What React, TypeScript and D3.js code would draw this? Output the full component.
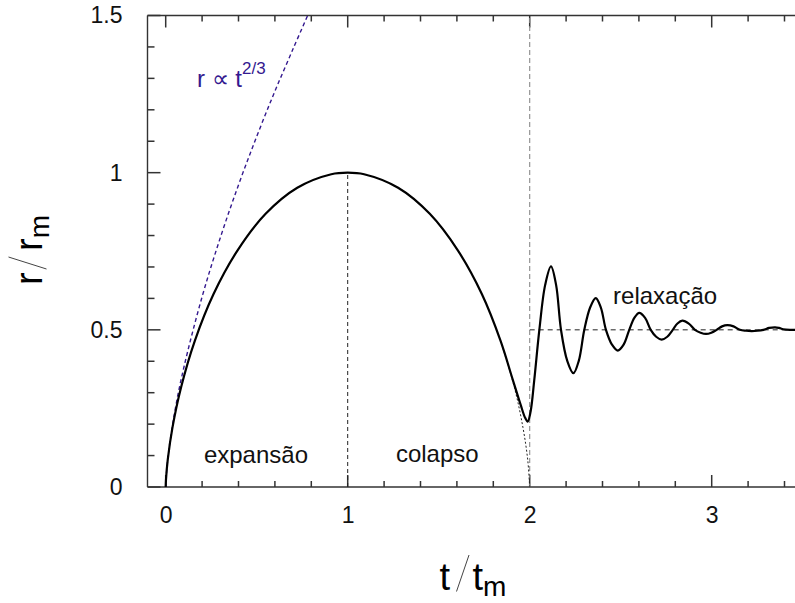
import React, { useRef, useEffect } from "react";
import * as d3 from "d3";

// solid curve: expansion, collapse and relaxation (t/tm, r/rm)
const curveT = [
  0, 0.0014, 0.0113, 0.0371, 0.0853, 0.16, 0.263, 0.394, 0.549, 0.723, 0.91, 1.0,
  1.09, 1.277, 1.451, 1.606, 1.737, 1.84, 1.905, 1.95, 1.975, 1.989, 2.005, 2.025,
  2.053, 2.085, 2.117, 2.145, 2.172, 2.206, 2.24, 2.27, 2.3, 2.332, 2.363, 2.391,
  2.419, 2.452, 2.484, 2.516, 2.547, 2.575, 2.602, 2.634, 2.665, 2.695, 2.725, 2.756,
  2.786, 2.812, 2.839, 2.874, 2.908, 2.939, 2.969, 2.998, 3.027, 3.057, 3.086, 3.12,
  3.155, 3.188, 3.22, 3.252, 3.284, 3.316, 3.348, 3.37, 3.393, 3.43, 3.5,
];
const curveR = [
  0, 0.022, 0.087, 0.189, 0.319, 0.465, 0.614, 0.752, 0.869, 0.952, 0.995, 1.0,
  0.995, 0.952, 0.869, 0.752, 0.614, 0.465, 0.345, 0.262, 0.22, 0.208, 0.24, 0.34,
  0.5, 0.643, 0.702, 0.643, 0.5, 0.402, 0.362, 0.402, 0.5, 0.571, 0.601, 0.571,
  0.5, 0.453, 0.434, 0.453, 0.5, 0.538, 0.554, 0.538, 0.5, 0.478, 0.469, 0.478,
  0.5, 0.52, 0.529, 0.52, 0.5, 0.491, 0.487, 0.491, 0.5, 0.511, 0.515, 0.511,
  0.5, 0.497, 0.496, 0.497, 0.5, 0.506, 0.508, 0.506, 0.502, 0.5, 0.5,
];

// dotted continuation of the free collapse down to r = 0
const tailT = [1.84, 1.915, 1.963, 1.989, 2.0];
const tailR = [0.465, 0.319, 0.189, 0.087, 0];

// r ~ t^(2/3) guide
const powT = [0, 0.01, 0.05, 0.1, 0.2, 0.3, 0.4, 0.5, 0.6, 0.7, 0.78];
const powR = [0, 0.082, 0.24, 0.381, 0.605, 0.793, 0.961, 1.115, 1.259, 1.394, 1.5];

const xMajor = [0, 1, 2, 3];
const xMinor = [0.2, 0.4, 0.6, 0.8, 1.2, 1.4, 1.6, 1.8, 2.2, 2.4, 2.6, 2.8, 3.2, 3.4];
const yMajor = [0, 0.5, 1, 1.5];
const yMinor = [0.1, 0.2, 0.3, 0.4, 0.6, 0.7, 0.8, 0.9, 1.1, 1.2, 1.3, 1.4];

const phases = [
  { text: "expansão", t: 0.21, r: 0.076 },
  { text: "colapso", t: 1.265, r: 0.079 },
  { text: "relaxação", t: 2.458, r: 0.582 },
];

const FONT = "'Liberation Sans', Arial, Helvetica, sans-serif";
const PURPLE = "#34198f";

const App = () => {
  const svgRef = useRef<SVGSVGElement>(null);
  const width = 795;
  const height = 603;

  useEffect(() => {
    const svg = d3.select(svgRef.current);
    svg.selectAll("*").remove();

    const x = d3.scaleLinear().domain([-0.1, 3.5]).range([147.5, 802.7]);
    const y = d3.scaleLinear().domain([0, 1.5]).range([487, 15.5]);
    const x0 = x(-0.1), x1 = x(3.5), y0 = y(0), y1 = y(1.5);

    svg.append("defs").append("clipPath").attr("id", "plot-clip")
      .append("rect")
      .attr("x", x0).attr("y", y1)
      .attr("width", x1 - x0).attr("height", y0 - y1);

    const axisColor = "#333";

    // inward ticks, drawn from the scales
    const xTicks = [
      ...xMajor.map(v => ({ v, len: 12 })),
      ...xMinor.map(v => ({ v, len: 6 })),
    ];
    const yTicks = [
      ...yMajor.map(v => ({ v, len: 13 })),
      ...yMinor.map(v => ({ v, len: 7 })),
    ];
    const ticks = svg.append("g").attr("stroke", axisColor).attr("stroke-width", 1.5);
    ticks.selectAll(".xb").data(xTicks).enter().append("line")
      .attr("x1", d => x(d.v)).attr("x2", d => x(d.v))
      .attr("y1", y0).attr("y2", d => y0 - d.len);
    ticks.selectAll(".xt").data(xTicks).enter().append("line")
      .attr("x1", d => x(d.v)).attr("x2", d => x(d.v))
      .attr("y1", y1).attr("y2", d => y1 + d.len);
    ticks.selectAll(".yl").data(yTicks).enter().append("line")
      .attr("x1", x0).attr("x2", d => x0 + d.len)
      .attr("y1", d => y(d.v)).attr("y2", d => y(d.v));

    // tick labels through d3 axes
    const xAxis = svg.append("g").attr("transform", `translate(0,${y0})`)
      .call(d3.axisBottom(x).tickValues(xMajor).tickSize(0).tickPadding(20).tickFormat(d3.format("d")));
    const yAxis = svg.append("g").attr("transform", `translate(${x0},0)`)
      .call(d3.axisLeft(y).tickValues(yMajor).tickSize(0).tickPadding(25).tickFormat(d => String(d)));
    [xAxis, yAxis].forEach(g => {
      g.select(".domain").remove();
      g.selectAll(".tick line").remove();
      g.selectAll(".tick text")
        .attr("font-family", FONT).attr("font-size", 23).attr("fill", "#111");
    });

    // frame lines
    svg.append("line").attr("x1", x0).attr("x2", x1).attr("y1", y0).attr("y2", y0)
      .attr("stroke", axisColor).attr("stroke-width", 1.4);
    svg.append("line").attr("x1", x0).attr("x2", x1).attr("y1", y1).attr("y2", y1)
      .attr("stroke", axisColor).attr("stroke-width", 1.4);
    svg.append("line").attr("x1", x0).attr("x2", x0).attr("y1", y0).attr("y2", y1)
      .attr("stroke", axisColor).attr("stroke-width", 1.4);

    const plot = svg.append("g").attr("clip-path", "url(#plot-clip)");

    // reference lines
    plot.append("line")
      .attr("x1", x(1)).attr("x2", x(1)).attr("y1", y(0)).attr("y2", y(1))
      .attr("stroke", "#222").attr("stroke-width", 1).attr("stroke-dasharray", "4,3");
    plot.append("line")
      .attr("x1", x(2)).attr("x2", x(2)).attr("y1", y(0)).attr("y2", y(1.5))
      .attr("stroke", "#8a8a8a").attr("stroke-width", 1.1).attr("stroke-dasharray", "5,3");
    plot.append("line")
      .attr("x1", x(2)).attr("x2", x(3.5)).attr("y1", y(0.5)).attr("y2", y(0.5))
      .attr("stroke", "#222").attr("stroke-width", 1).attr("stroke-dasharray", "5,4");

    const line = d3.line<[number, number]>()
      .x(d => x(d[0]))
      .y(d => y(d[1]))
      .curve(d3.curveCatmullRom.alpha(0.5));

    plot.append("path")
      .datum(tailT.map((t, i) => [t, tailR[i]] as [number, number]))
      .attr("d", line)
      .attr("fill", "none").attr("stroke", "#222").attr("stroke-width", 1)
      .attr("stroke-dasharray", "2,2");

    plot.append("path")
      .datum(powT.map((t, i) => [t, powR[i]] as [number, number]))
      .attr("d", line)
      .attr("fill", "none").attr("stroke", PURPLE).attr("stroke-width", 1.4)
      .attr("stroke-dasharray", "4,3");

    plot.append("path")
      .datum(curveT.map((t, i) => [t, curveR[i]] as [number, number]))
      .attr("d", line)
      .attr("fill", "none").attr("stroke", "#000").attr("stroke-width", 2.2)
      .attr("stroke-linejoin", "round");

    // phase labels
    svg.selectAll(".phase")
      .data(phases)
      .enter()
      .append("text")
      .attr("class", "phase")
      .attr("x", d => x(d.t))
      .attr("y", d => y(d.r))
      .attr("font-family", FONT)
      .attr("font-size", 24)
      .attr("fill", "#111")
      .text(d => d.text);

    // r ~ t^(2/3) label
    const pl = svg.append("text")
      .attr("x", 197).attr("y", 87)
      .attr("font-family", FONT).attr("font-size", 24).attr("fill", PURPLE);
    pl.append("tspan").text("r \u221d t");
    pl.append("tspan").attr("font-size", 17).attr("dy", -13).text("2/3");

    // x axis title t / t_m
    const cx = 471;
    svg.append("text").attr("x", cx - 21).attr("y", 590).attr("text-anchor", "end")
      .attr("font-family", FONT).attr("font-size", 38).attr("fill", "#000").text("t");
    svg.append("line")
      .attr("x1", cx - 14.5).attr("y1", 591.5).attr("x2", cx - 2).attr("y2", 555)
      .attr("stroke", "#444").attr("stroke-width", 1);
    const xt = svg.append("text").attr("x", cx + 1.5).attr("y", 590)
      .attr("font-family", FONT).attr("font-size", 38).attr("fill", "#000");
    xt.append("tspan").text("t");
    xt.append("tspan").attr("font-size", 28).attr("dy", 6).text("m");

    // y axis title r / r_m (rotated)
    const yg = svg.append("g").attr("transform", `translate(42,285) rotate(-90)`);
    yg.append("text").attr("x", 0).attr("y", 0)
      .attr("font-family", FONT).attr("font-size", 38).attr("fill", "#000").text("r");
    yg.append("line")
      .attr("x1", 16).attr("y1", 4.5).attr("x2", 28).attr("y2", -33.5)
      .attr("stroke", "#444").attr("stroke-width", 1);
    const ytt = yg.append("text").attr("x", 34).attr("y", 0)
      .attr("font-family", FONT).attr("font-size", 38).attr("fill", "#000");
    ytt.append("tspan").text("r");
    ytt.append("tspan").attr("font-size", 28).attr("dy", 7).text("m");
  }, []);

  return (
    <svg
      ref={svgRef}
      width={width}
      height={height}
      style={{ position: "absolute", left: 0, top: 0, background: "#fff" }}
    />
  );
};

export default App;
